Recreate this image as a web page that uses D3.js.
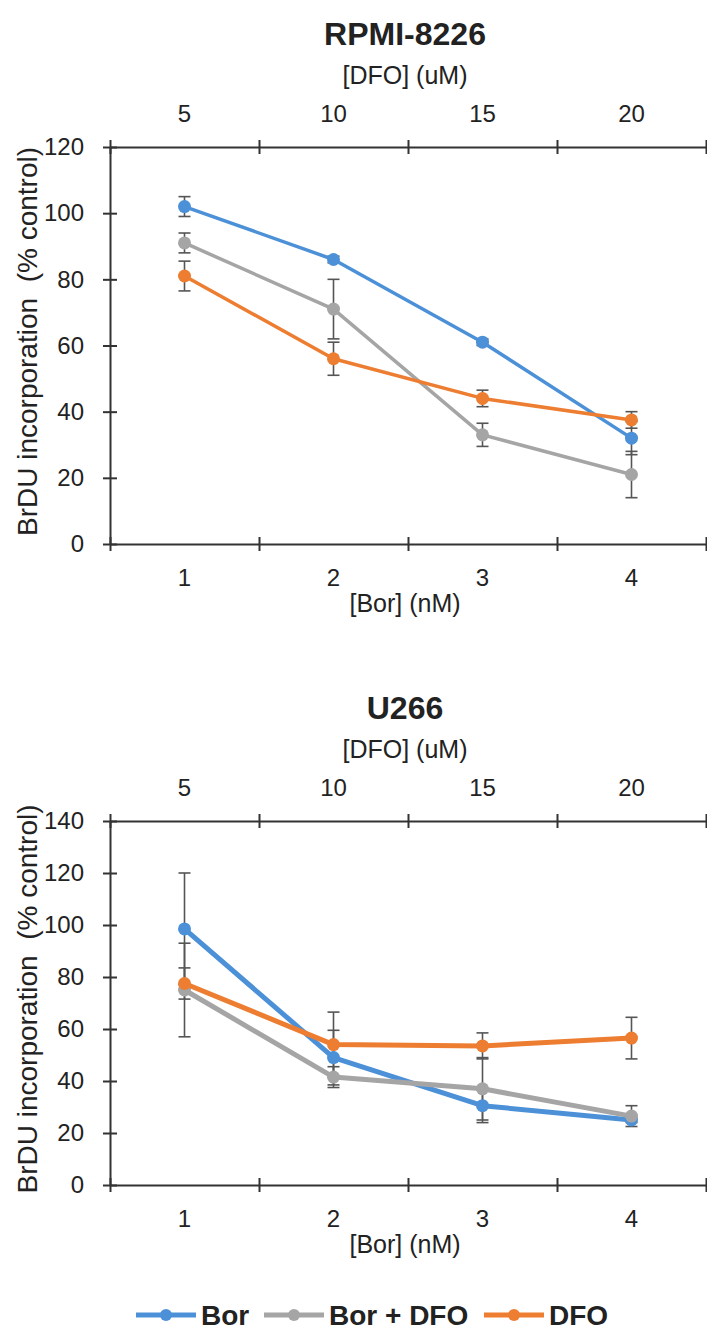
<!DOCTYPE html>
<html>
<head>
<meta charset="utf-8">
<script src="https://cdn.jsdelivr.net/npm/d3@7"></script>
<style>
  html, body { margin: 0; padding: 0; background: #fff; }
  svg { display: block; font-family: "Liberation Sans", Arial, sans-serif; }
</style>
</head>
<body>
<svg id="chart" width="707" height="1334"></svg>
<script>
// ---- data ----
const borConc = ["1", "2", "3", "4"];          // [Bor] (nM), bottom axis
const dfoConc = ["5", "10", "15", "20"];       // [DFO] (uM), top axis
const seriesNames = ["Bor", "Bor + DFO", "DFO"];
const seriesColors = ["#4c91d8", "#a5a5a5", "#ed7d31"];

// RPMI-8226
const rpmiBor = [102, 86, 61, 32];
const rpmiBorErr = [3, 1, 1, 5];
const rpmiBorDfo = [91, 71, 33, 21];
const rpmiBorDfoErr = [3, 9, 3.5, 7];
const rpmiDfo = [81, 56, 44, 37.5];
const rpmiDfoErr = [4.5, 5, 2.5, 2.5];

// U266
const u266Bor = [98.5, 49, 30.5, 25];
const u266BorErr = [21.5, 10.5, 6.5, 1];
const u266BorDfo = [75, 41.5, 37, 26.5];
const u266BorDfoErr = [18, 4, 12, 4];
const u266Dfo = [77.5, 54, 53.5, 56.5];
const u266DfoErr = [6, 12.5, 5, 8];

const rpmiTicks = [0, 20, 40, 60, 80, 100, 120];
const u266Ticks = [0, 20, 40, 60, 80, 100, 120, 140];

// ---- drawing ----
const svg = d3.select('#chart');
const ink = '#222';
const axisInk = '#333';
const left = 110, right = 706;

function panel(opts) {
  const g = svg.append('g');
  const { yTop, yBottom, ticks, series, errs, title, lineW } = opts;
  const yMax = ticks[ticks.length - 1];

  const x = d3.scaleBand().domain(borConc).range([left, right]);
  const xTop = d3.scaleBand().domain(dfoConc).range([left, right]);
  const xEdge = d3.scaleLinear().domain([0, borConc.length]).range([left, right]);
  const y = d3.scaleLinear().domain([0, yMax]).range([yBottom, yTop]);

  // titles
  g.append('text')
    .attr('x', 405).attr('y', yTop - 102)
    .attr('text-anchor', 'middle')
    .attr('font-size', 32).attr('font-weight', 'bold').attr('fill', ink)
    .text(title);
  g.append('text')
    .attr('x', 405).attr('y', yTop - 63)
    .attr('text-anchor', 'middle')
    .attr('font-size', 25).attr('fill', ink)
    .text('[DFO] (uM)');
  g.append('text')
    .attr('x', 405).attr('y', yBottom + 68)
    .attr('text-anchor', 'middle')
    .attr('font-size', 25).attr('fill', ink)
    .text('[Bor] (nM)');
  g.append('text')
    .attr('transform', `translate(37,${(yTop + yBottom) / 2 - 4}) rotate(-90)`)
    .attr('text-anchor', 'middle')
    .attr('font-size', 28).attr('fill', ink)
    .attr('xml:space', 'preserve')
    .text('BrDU incorporation  (% control)');

  // axes lines with crossing ticks
  const edgeTicks = d3.range(0, borConc.length + 1);
  const bottomAx = g.append('g')
    .attr('transform', `translate(0,${yBottom})`)
    .call(d3.axisBottom(xEdge).tickValues(edgeTicks).tickFormat('').tickSizeOuter(0));
  const topAx = g.append('g')
    .attr('transform', `translate(0,${yTop})`)
    .call(d3.axisTop(xEdge).tickValues(edgeTicks).tickFormat('').tickSizeOuter(0));
  [bottomAx, topAx].forEach(a => {
    a.selectAll('.tick line').attr('y1', -7).attr('y2', 7);
  });

  const yAx = g.append('g')
    .attr('transform', `translate(${left},0)`)
    .call(d3.axisLeft(y).tickValues(ticks).tickSizeOuter(0));
  yAx.selectAll('.tick line').attr('x1', -7).attr('x2', 7);
  yAx.selectAll('.tick text').attr('x', -26).attr('font-size', 24).attr('fill', ink);

  g.selectAll('.domain, .tick line')
    .attr('stroke', axisInk).attr('stroke-width', 2);

  // category labels
  g.append('g')
    .attr('transform', `translate(0,${yBottom + 20})`)
    .call(d3.axisBottom(x).tickSize(0))
    .call(s => s.select('.domain').remove())
    .selectAll('text').attr('font-size', 24).attr('fill', ink).attr('dy', '0.8em');
  g.append('g')
    .attr('transform', `translate(0,${yTop - 22})`)
    .call(d3.axisTop(xTop).tickSize(0))
    .call(s => s.select('.domain').remove())
    .selectAll('text').attr('font-size', 24).attr('fill', ink);
  g.selectAll('.tick text').attr('font-family', '"Liberation Sans", Arial, sans-serif');

  const cx = c => x(c) + x.bandwidth() / 2;

  // error bars
  series.forEach((vals, si) => {
    const eg = g.append('g').attr('stroke', '#555').attr('stroke-width', 1.6).attr('fill', 'none');
    vals.forEach((v, i) => {
      const e = errs[si][i];
      const px = cx(borConc[i]);
      eg.append('line').attr('x1', px).attr('x2', px).attr('y1', y(v - e)).attr('y2', y(v + e));
      [v - e, v + e].forEach(t => {
        eg.append('line').attr('x1', px - 6).attr('x2', px + 6).attr('y1', y(t)).attr('y2', y(t));
      });
    });
  });

  // lines + markers
  const line = d3.line().x((d, i) => cx(borConc[i])).y(d => y(d));
  series.forEach((vals, si) => {
    g.append('path')
      .datum(vals)
      .attr('d', line)
      .attr('fill', 'none')
      .attr('stroke', seriesColors[si])
      .attr('stroke-width', lineW)
      .attr('stroke-linejoin', 'round');
    g.append('g').selectAll('circle')
      .data(vals)
      .join('circle')
      .attr('cx', (d, i) => cx(borConc[i]))
      .attr('cy', d => y(d))
      .attr('r', 6.5)
      .attr('fill', seriesColors[si]);
  });
}

panel({
  title: 'RPMI-8226', yTop: 147, yBottom: 544, ticks: rpmiTicks, lineW: 3.5,
  series: [rpmiBor, rpmiBorDfo, rpmiDfo],
  errs: [rpmiBorErr, rpmiBorDfoErr, rpmiDfoErr]
});
panel({
  title: 'U266', yTop: 821, yBottom: 1185, ticks: u266Ticks, lineW: 5,
  series: [u266Bor, u266BorDfo, u266Dfo],
  errs: [u266BorErr, u266BorDfoErr, u266DfoErr]
});

// legend
const legendX = [136, 264, 484];
const legend = svg.append('g').attr('transform', 'translate(0,1315)');
seriesNames.forEach((name, i) => {
  const item = legend.append('g').attr('transform', `translate(${legendX[i]},0)`);
  item.append('line').attr('x1', 0).attr('x2', 60).attr('y1', 0).attr('y2', 0)
    .attr('stroke', seriesColors[i]).attr('stroke-width', 5);
  item.append('circle').attr('cx', 30).attr('cy', 0).attr('r', 6).attr('fill', seriesColors[i]);
  item.append('text').attr('x', 65).attr('y', 0).attr('dy', '0.36em')
    .attr('font-size', 28).attr('font-weight', 'bold').attr('fill', ink)
    .text(name);
});
</script>
</body>
</html>
